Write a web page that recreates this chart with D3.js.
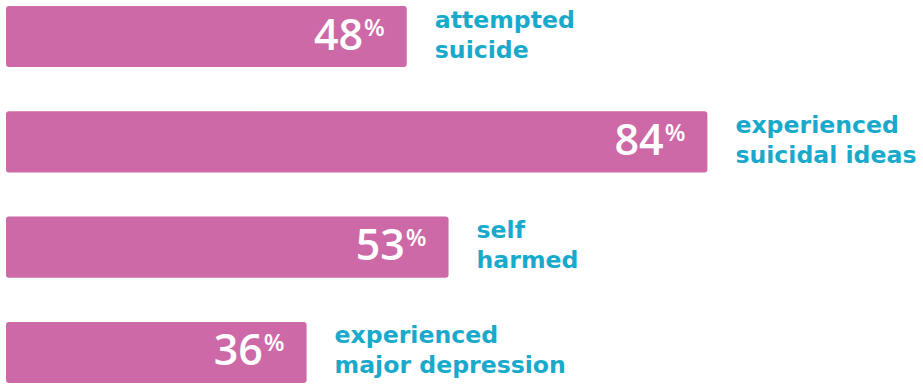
<!DOCTYPE html>
<html>
<head>
<meta charset="utf-8">
<script src="https://cdn.jsdelivr.net/npm/d3@7"></script>
<style>
  body { margin: 0; background: #fff; }
</style>
</head>
<body>
<div class="canvas"></div>
<script>
// data
const categories = ['attempted', 'ideas', 'harmed', 'depression']
const values = [48, 84, 53, 36]
const labelLines = [
    ['attempted', 'suicide'],
    ['experienced', 'suicidal ideas'],
    ['self', 'harmed'],
    ['experienced', 'major depression']
]

const dimensions = { width: 923, height: 384 }

const svg = d3.select('.canvas')
    .append('svg')
    .attr('width', dimensions.width)
    .attr('height', dimensions.height)

// scales
const x = d3.scaleLinear()
    .domain([0, 100])
    .range([6, 6 + 835])

const y = d3.scaleBand()
    .domain(categories)
    .range([6, 383])
    .paddingInner(0.42)
    .paddingOuter(0)

const data = categories.map((c, i) => ({ key: c, value: values[i], lines: labelLines[i] }))

const rows = svg.selectAll('g.row')
    .data(data)
    .enter()
    .append('g')
    .attr('class', 'row')

// bars
rows.append('rect')
    .attr('x', x(0))
    .attr('y', d => y(d.key))
    .attr('width', d => x(d.value) - x(0))
    .attr('height', y.bandwidth())
    .attr('rx', 3)
    .attr('fill', '#cd69a7')

// value inside bar
const num = rows.append('text')
    .attr('x', d => x(d.value) - 22)
    .attr('y', d => y(d.key) + y.bandwidth() / 2 + 13)
    .attr('text-anchor', 'end')
    .attr('fill', '#fff')
    .style('font-family', '"Open Sans", sans-serif')
    .style('font-weight', 600)

num.append('tspan')
    .style('font-size', '43px')
    .text(d => d.value)

num.append('tspan')
    .attr('dx', 1)
    .attr('dy', -14)
    .style('font-size', '24px')
    .text('%')

// labels to the right
const lbl = rows.append('text')
    .attr('fill', '#19aacb')
    .style('font-family', '"DejaVu Sans", sans-serif')
    .style('font-weight', 'bold')
    .style('font-size', '23.6px')

lbl.selectAll('tspan')
    .data(d => d.lines.map((t, i) => ({ t, i, d })))
    .enter()
    .append('tspan')
    .attr('x', o => x(o.d.value) + 28)
    .attr('y', o => y(o.d.key) + y.bandwidth() / 2 - 9 + o.i * 30)
    .text(o => o.t)
</script>
</body>
</html>
